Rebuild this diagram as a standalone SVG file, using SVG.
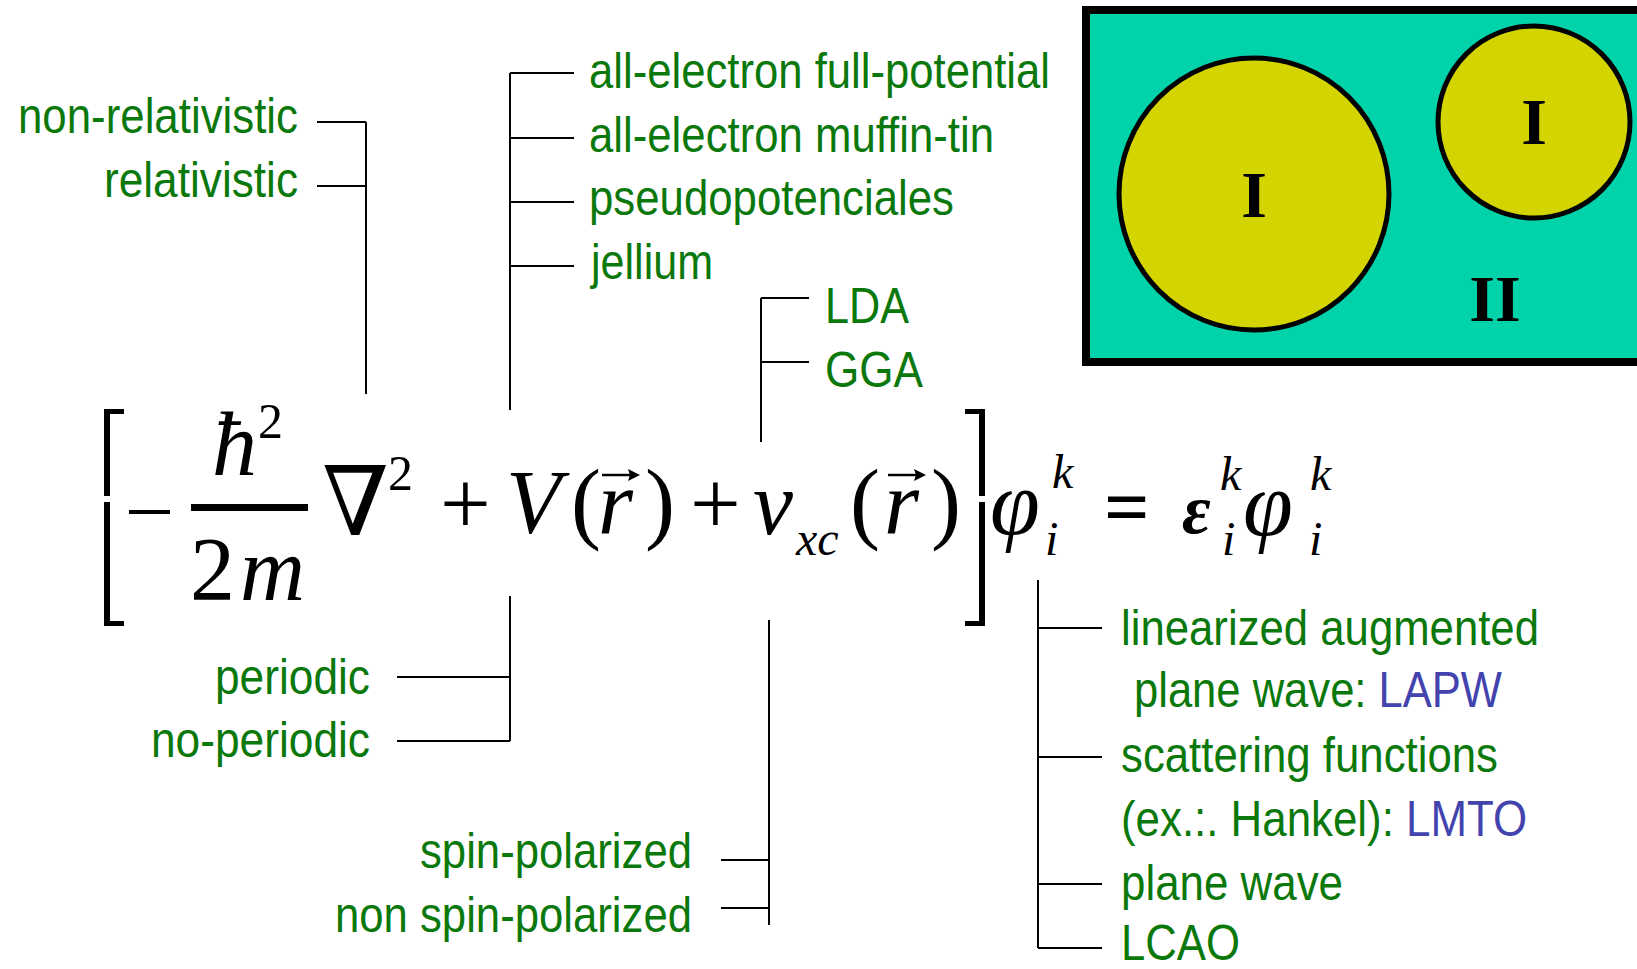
<svg xmlns="http://www.w3.org/2000/svg" width="1637" height="969" viewBox="0 0 1637 969">
<defs>
<style>
.g{font-family:"Liberation Sans",Arial,sans-serif;font-size:50px;fill:#0A780A}
.bl{fill:#4343AE}
.m{font-family:"Liberation Serif","DejaVu Serif",serif;font-size:90px;fill:#000}
.i{font-style:italic}
.s{font-size:50px}
.ss{font-size:48px}
.c{stroke:#000;stroke-width:2;fill:none}
.rn{font-family:"Liberation Serif",serif;font-weight:bold;font-size:66px;fill:#000;text-anchor:middle}
</style>
</defs>
<rect width="1637" height="969" fill="#fff"/>

<g id="muffin-tin">
<rect x="1086" y="10" width="600" height="352" fill="#00D2AA" stroke="#000" stroke-width="8"/>
<ellipse cx="1254" cy="194" rx="135" ry="136" fill="#D4D400" stroke="#000" stroke-width="5"/>
<ellipse cx="1534" cy="122" rx="96" ry="96" fill="#D4D400" stroke="#000" stroke-width="5"/>
<text class="rn" x="1254" y="217">I</text>
<text class="rn" x="1534" y="144">I</text>
<text class="rn" x="1495" y="321">II</text>
</g>

<g id="equation">
<rect x="104" y="409" width="6" height="87"/>
<rect x="104" y="409" width="20" height="5"/>
<rect x="104" y="502" width="6" height="124"/>
<rect x="104" y="621" width="20" height="5"/>
<rect x="979" y="409" width="6" height="87"/>
<rect x="965" y="409" width="20" height="5"/>
<rect x="979" y="502" width="6" height="124"/>
<rect x="965" y="621" width="20" height="5"/>
<rect x="129" y="510" width="41" height="4"/>
<rect x="191" y="504" width="117" height="7"/>
<text class="m i" x="212" y="475">ħ</text>
<text class="m s" x="258" y="438">2</text>
<text class="m" x="190" y="600">2</text>
<text class="m i" x="240" y="600">m</text>
<text class="m" x="322" y="535" style="font-size:96px">∇</text>
<text class="m s" x="388" y="490">2</text>
<text class="m" x="440" y="534">+</text>
<text class="m i" x="506" y="533">V</text>
<text class="m" x="571" y="532">(</text>
<text class="m i" x="598" y="533">r</text>
<path d="M602,475 H632" stroke="#000" stroke-width="2.5"/>
<path d="M640,475 L628,469 L630,475 L628,481 Z"/>
<text class="m" x="645" y="532">)</text>
<text class="m" x="690" y="534">+</text>
<text class="m i" x="753" y="534">v</text>
<text class="m i ss" x="796" y="555">xc</text>
<text class="m" x="850" y="532">(</text>
<text class="m i" x="884" y="533">r</text>
<path d="M888,475 H918" stroke="#000" stroke-width="2.5"/>
<path d="M926,475 L914,469 L916,475 L914,481 Z"/>
<text class="m" x="931" y="532">)</text>
<text class="m i" x="990" y="534">φ</text>
<text class="m i ss" x="1052" y="488">k</text>
<text class="m i ss" x="1045" y="555">i</text>
<text class="m" x="1104" y="534" style="font-weight:bold;font-size:80px">=</text>
<text class="m i" x="1182" y="533" style="font-weight:bold;font-size:70px">ε</text>
<text class="m i ss" x="1220" y="490">k</text>
<text class="m i ss" x="1222" y="555">i</text>
<text class="m i" x="1243" y="535">φ</text>
<text class="m i ss" x="1310" y="490">k</text>
<text class="m i ss" x="1309" y="555">i</text>
</g>

<g id="connectors" class="c">
<path d="M366,122 V394 M317,122 H366 M317,186 H366"/>
<path d="M510,73 V410 M510,73 H574 M510,138 H574 M510,202 H574 M510,266 H574"/>
<path d="M761,298 V442 M761,298 H809 M761,362 H809"/>
<path d="M510,596 V741 M397,677 H510 M397,741 H510"/>
<path d="M769,620 V925 M721,860 H769 M721,908 H769"/>
<path d="M1038,580 V948 M1038,628 H1102 M1038,757 H1102 M1038,884 H1102 M1038,948 H1102"/>
</g>

<g id="relativity">
<text class="g" x="18" y="133" textLength="280" lengthAdjust="spacingAndGlyphs">non-relativistic</text>
<text class="g" x="104" y="197" textLength="194" lengthAdjust="spacingAndGlyphs">relativistic</text>
</g>
<g id="potential">
<text class="g" x="589" y="88" textLength="461" lengthAdjust="spacingAndGlyphs">all-electron full-potential</text>
<text class="g" x="589" y="152" textLength="405" lengthAdjust="spacingAndGlyphs">all-electron muffin-tin</text>
<text class="g" x="589" y="215" textLength="365" lengthAdjust="spacingAndGlyphs">pseudopotenciales</text>
<text class="g" x="591" y="279" textLength="122" lengthAdjust="spacingAndGlyphs">jellium</text>
</g>
<g id="xc">
<text class="g" x="825" y="323" textLength="84" lengthAdjust="spacingAndGlyphs">LDA</text>
<text class="g" x="825" y="387" textLength="98" lengthAdjust="spacingAndGlyphs">GGA</text>
</g>
<g id="periodicity">
<text class="g" x="215" y="694" textLength="155" lengthAdjust="spacingAndGlyphs">periodic</text>
<text class="g" x="151" y="757" textLength="219" lengthAdjust="spacingAndGlyphs">no-periodic</text>
</g>
<g id="spin">
<text class="g" x="420" y="868" textLength="272" lengthAdjust="spacingAndGlyphs">spin-polarized</text>
<text class="g" x="335" y="932" textLength="357" lengthAdjust="spacingAndGlyphs">non spin-polarized</text>
</g>
<g id="basis">
<text class="g" x="1121" y="645" textLength="418" lengthAdjust="spacingAndGlyphs">linearized augmented</text>
<text class="g" x="1134" y="707" textLength="368" lengthAdjust="spacingAndGlyphs">plane wave: <tspan class="bl">LAPW</tspan></text>
<text class="g" x="1121" y="772" textLength="377" lengthAdjust="spacingAndGlyphs">scattering functions</text>
<text class="g" x="1121" y="836" textLength="406" lengthAdjust="spacingAndGlyphs">(ex.:. Hankel): <tspan class="bl">LMTO</tspan></text>
<text class="g" x="1121" y="900" textLength="222" lengthAdjust="spacingAndGlyphs">plane wave</text>
<text class="g" x="1121" y="960" textLength="119" lengthAdjust="spacingAndGlyphs">LCAO</text>
</g>
</svg>
